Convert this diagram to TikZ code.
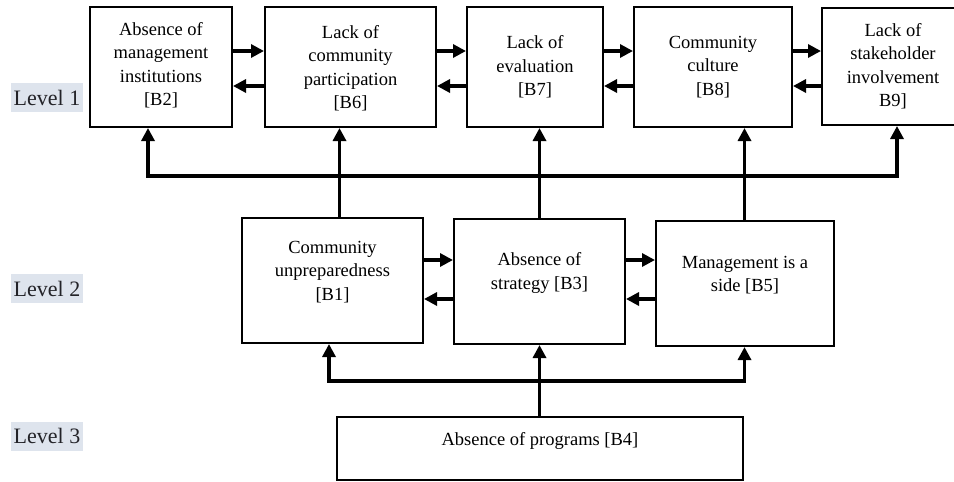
\documentclass[tikz,border=0pt]{standalone}
\usepackage{fontspec}
\setmainfont{Liberation Serif}
\usetikzlibrary{arrows.meta}
\definecolor{lvlbg}{RGB}{222,228,237}
\definecolor{lvltext}{RGB}{35,35,40}
\begin{document}
\begin{tikzpicture}[x=1pt,y=-1pt,
  box/.style={draw, line width=2pt, inner sep=0pt},
  txt/.style={align=center, font=\fontsize{18.5}{23.5}\selectfont, inner sep=0pt},
  lvl/.style={fill=lvlbg, text=lvltext, font=\fontsize{22}{26}\selectfont, minimum width=72pt, minimum height=29pt, inner sep=0pt},
  conn/.style={line width=3.2pt, -{Triangle[length=13pt,width=13pt]}},
  bus/.style={line width=3.2pt, {Triangle[length=13pt,width=13pt]}-{Triangle[length=13pt,width=13pt]}},
  plain/.style={line width=3.2pt}]
\useasboundingbox (0,0) rectangle (954,482);
\clip (0,0) rectangle (954,482);

% level labels
\node[lvl] (l1) at (47,97.5) {Level 1};
\node[lvl] (l2) at (47,288.5) {Level 2};
\node[lvl] (l3) at (47,436) {Level 3};

% level 1 boxes
\node[box, minimum width=142pt, minimum height=120pt] (b2) at (161,67) {};
\node[box, minimum width=171pt, minimum height=120pt] (b6) at (350.5,67) {};
\node[box, minimum width=136pt, minimum height=120pt] (b7) at (535,67) {};
\node[box, minimum width=158pt, minimum height=120pt] (b8) at (713,67) {};
\node[box, minimum width=142pt, minimum height=117pt] (b9) at (893,66.5) {};
% level 2 boxes
\node[box, minimum width=181pt, minimum height=125pt] (b1) at (332.5,280.5) {};
\node[box, minimum width=171pt, minimum height=125pt] (b3) at (539.5,281.5) {};
\node[box, minimum width=178pt, minimum height=125pt] (b5) at (745,283.5) {};
% level 3 box
\node[box, minimum width=406pt, minimum height=63pt] (b4) at (540,448.5) {};

% texts
\node[txt] (t2) at (161,65) {Absence of\\management\\institutions\\{[B2]}};
\node[txt] (t6) at (350.5,68) {Lack of\\community\\participation\\{[B6]}};
\node[txt] (t7) at (535,67) {Lack of\\evaluation\\{[B7]}};
\node[txt] (t8) at (713,67) {Community\\culture\\{[B8]}};
\node[txt] (t9) at (893,66) {Lack of\\stakeholder\\involvement\\B9]};
\node[txt] (t1) at (332.5,272) {Community\\unpreparedness\\{[B1]}};
\node[txt] (t3) at (539.5,273) {Absence of\\strategy [B3]};
\node[txt] (t5) at (745,275) {Management is a\\side [B5]};
\node[txt] (t4) at (540,441) {Absence of programs [B4]};

% helper coordinates
\coordinate (r1) at (0,51);
\coordinate (r2) at (0,86);
\coordinate (r3) at (0,260);
\coordinate (r4) at (0,299);
\coordinate (cx1) at (339.5,0);
\coordinate (cx2) at (539.5,0);
\coordinate (cx3) at (744.5,0);
\coordinate (busL) at (148,176);
\coordinate (busR) at (897,176);
\coordinate (lowL) at (329,381);
\coordinate (lowR) at (744.5,381);

% level 1 horizontal arrows
\draw[conn] (b2.east |- r1) -- (b6.west |- r1);
\draw[conn] (b6.west |- r2) -- (b2.east |- r2);
\draw[conn] (b6.east |- r1) -- (b7.west |- r1);
\draw[conn] (b7.west |- r2) -- (b6.east |- r2);
\draw[conn] (b7.east |- r1) -- (b8.west |- r1);
\draw[conn] (b8.west |- r2) -- (b7.east |- r2);
\draw[conn] (b8.east |- r1) -- (b9.west |- r1);
\draw[conn] (b9.west |- r2) -- (b8.east |- r2);

% level 2 horizontal arrows
\draw[conn] (b1.east |- r3) -- (b3.west |- r3);
\draw[conn] (b3.west |- r4) -- (b1.east |- r4);
\draw[conn] (b3.east |- r3) -- (b5.west |- r3);
\draw[conn] (b5.west |- r4) -- (b3.east |- r4);

% upper bus
\draw[bus] (b2.south -| busL) -- (busL) -- (busR) -- (b9.south -| busR);
% level 2 to level 1
\draw[conn] (b1.north -| cx1) -- (b6.south -| cx1);
\draw[conn] (b3.north -| cx2) -- (b7.south -| cx2);
\draw[conn] (b5.north -| cx3) -- (b8.south -| cx3);

% lower bus
\draw[bus] (b1.south -| lowL) -- (lowL) -- (lowR) -- (b5.south -| lowR);
\draw[conn] (b4.north -| cx2) -- (b3.south -| cx2);
\end{tikzpicture}
\end{document}
